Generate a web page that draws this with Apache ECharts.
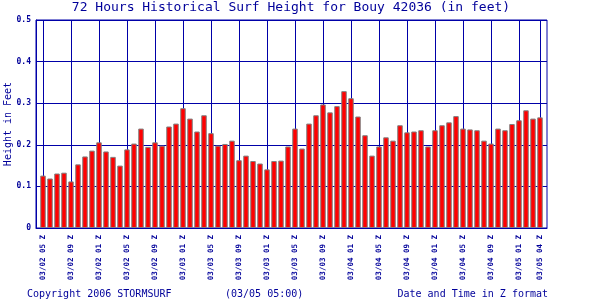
<!DOCTYPE html>
<html>
<head>
<meta charset="utf-8">
<script src="https://cdn.jsdelivr.net/npm/echarts@6/dist/echarts.min.js"></script>
<style>html,body{margin:0;padding:0;background:#fff;}#c{width:600px;height:300px;}</style>
</head>
<body>
<div id="c"></div>
<script>
// Surf height per hour (feet), 03/02 05Z .. 03/05 04Z
const heights = [
  0.126, 0.119, 0.131, 0.133, 0.112, 0.153, 0.172, 0.186, 0.206, 0.184, 0.171, 0.150,
  0.189, 0.203, 0.239, 0.195, 0.206, 0.198, 0.244, 0.251, 0.288, 0.263, 0.232, 0.271,
  0.228, 0.198, 0.202, 0.210, 0.163, 0.174, 0.161, 0.155, 0.141, 0.161, 0.162, 0.196,
  0.239, 0.191, 0.251, 0.271, 0.297, 0.278, 0.293, 0.329, 0.312, 0.268, 0.223, 0.174,
  0.196, 0.218, 0.210, 0.247, 0.230, 0.232, 0.235, 0.196, 0.235, 0.247, 0.254, 0.269,
  0.239, 0.237, 0.235, 0.210, 0.203, 0.239, 0.235, 0.250, 0.259, 0.283, 0.263, 0.266
];
// hour positions (index into heights) that carry a tick label
const tickPositions = [0, 4, 8, 12, 16, 20, 24, 28, 32, 36, 40, 44, 48, 52, 56, 60, 64, 68, 71];
const tickLabels = [
  '03/02 05 Z', '03/02 09 Z', '03/02 01 Z', '03/02 05 Z', '03/02 09 Z',
  '03/03 01 Z', '03/03 05 Z', '03/03 09 Z', '03/03 01 Z', '03/03 05 Z', '03/03 09 Z',
  '03/04 01 Z', '03/04 05 Z', '03/04 09 Z', '03/04 01 Z', '03/04 05 Z', '03/04 09 Z',
  '03/05 01 Z', '03/05 04 Z'
];
const yTicks = [0, 0.1, 0.2, 0.3, 0.4, 0.5];
const titleText = '72 Hours Historical Surf Height for Bouy 42036 (in feet)';
const yName = 'Height in Feet';
const footLeft = 'Copyright 2006 STORMSURF';
const footMid = '(03/05 05:00)';
const footRight = 'Date and Time in Z format';

const BLUE = '#0000a8';
const TXT = '#00009a';
const MONO = '"DejaVu Sans Mono", "Liberation Mono", monospace';

// category axis: one padding slot on each side of the 72 hours
const cats = [' pad0'];
const labelled = {};
for (let i = 0; i < heights.length; i++) {
  const t = tickPositions.indexOf(i);
  cats.push(t >= 0 ? tickLabels[t] : 'h' + i);
  if (t >= 0) labelled[i + 1] = true;
}
cats.push(' pad1');
const seriesData = ['-'].concat(heights).concat(['-']);

const chart = echarts.init(document.getElementById('c'), null, {renderer: 'canvas'});
chart.setOption({
  animation: false,
  backgroundColor: '#ffffff',
  grid: {left: 36, right: 53, top: 20, bottom: 72, show: true, borderColor: BLUE, borderWidth: 1, backgroundColor: 'transparent'},
  xAxis: {
    type: 'category',
    data: cats,
    boundaryGap: false,
    axisLine: {show: true, lineStyle: {color: BLUE, width: 1}},
    axisTick: {show: false},
    axisLabel: {
      interval: (idx) => !!labelled[idx],
      rotate: 90,
      margin: 7,
      color: TXT,
      fontFamily: MONO,
      fontSize: 7.5,
      fontWeight: 'bold'
    },
    splitLine: {show: true, interval: (idx) => !!labelled[idx], lineStyle: {color: BLUE, width: 1}}
  },
  yAxis: {
    type: 'value',
    min: yTicks[0],
    max: yTicks[yTicks.length - 1],
    interval: 0.1,
    axisLine: {show: true, lineStyle: {color: BLUE}},
    axisTick: {show: false},
    axisLabel: {
      margin: 5,
      color: TXT,
      fontFamily: MONO,
      fontSize: 8,
      fontWeight: 'bold',
      formatter: (v) => (Math.abs(v) < 1e-9 ? '0' : v.toFixed(1))
    },
    splitLine: {show: true, lineStyle: {color: BLUE, width: 1}}
  },
  series: [{
    type: 'bar',
    data: seriesData,
    barWidth: 5.5,
    itemStyle: {color: '#ff0000', borderColor: '#808080', borderWidth: 1}
  }],
  graphic: [
    {type: 'text', left: null, x: 291, y: 8, style: {text: titleText, fill: TXT, font: '13px ' + MONO, textAlign: 'center', textVerticalAlign: 'middle'}},
    {type: 'text', x: 8, y: 124, rotation: Math.PI / 2, style: {text: yName, fill: TXT, font: '10px ' + MONO, textAlign: 'center', textVerticalAlign: 'middle'}},
    {type: 'text', x: 27, y: 294, style: {text: footLeft, fill: TXT, font: '10px ' + MONO, textAlign: 'left', textVerticalAlign: 'middle'}},
    {type: 'text', x: 225, y: 294, style: {text: footMid, fill: TXT, font: '10px ' + MONO, textAlign: 'left', textVerticalAlign: 'middle'}},
    {type: 'text', x: 548, y: 294, style: {text: footRight, fill: TXT, font: '10px ' + MONO, textAlign: 'right', textVerticalAlign: 'middle'}}
  ]
});
</script>
</body>
</html>
